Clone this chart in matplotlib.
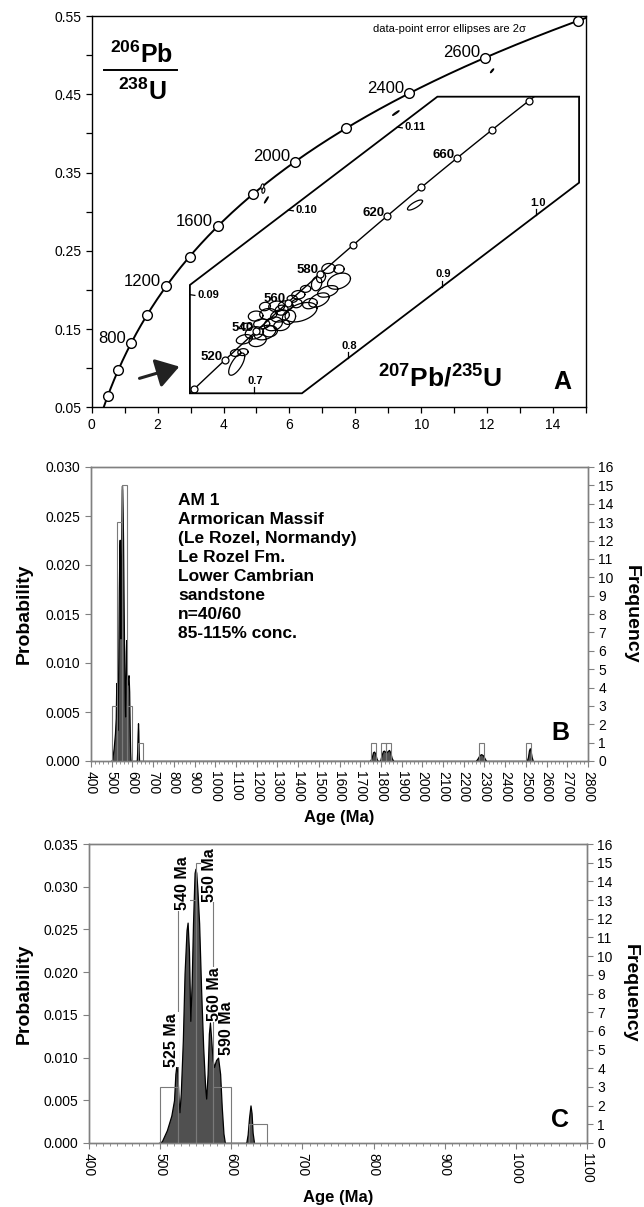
import numpy as np
import matplotlib
matplotlib.use("Agg")
import matplotlib.pyplot as plt
from matplotlib.patches import Polygon
from matplotlib.transforms import Affine2D
from matplotlib.ticker import MultipleLocator, FixedLocator, FormatStrFormatter

plt.rcParams['font.family'] = ['Liberation Sans', 'DejaVu Sans']
plt.rcParams['mathtext.fontset'] = 'custom'
plt.rcParams['mathtext.rm'] = 'Liberation Sans'
plt.rcParams['mathtext.bf'] = 'Liberation Sans:bold'
plt.rcParams['mathtext.it'] = 'Liberation Sans:italic'
plt.rcParams['mathtext.sf'] = 'Liberation Sans'

# ------------------------------------------------------------------ data
LAMBDA_238 = 1.55125e-10   # decay constants (1/yr)
LAMBDA_235 = 9.8485e-10

# concordia (panel A)
CONC_MARKER_AGES = [400, 600, 800, 1000, 1200, 1400, 1600, 1800, 2000, 2200, 2400, 2600, 2800]
CONC_LABEL_AGES = [800, 1200, 1600, 2000, 2400, 2600]

# inset concordia
INSET_MARKER_AGES = [500, 520, 540, 560, 580, 600, 620, 640, 660, 680, 700]
INSET_LABEL_AGES = [520, 540, 560, 580, 620, 660]
INSET_R7_TICKS = [0.7, 0.8, 0.9, 1.0]
INSET_R6_TICKS = [0.09, 0.10, 0.11]

# inset error ellipses: 207Pb/235U, 206Pb/238U, 2-sigma half extents, error correlation
ELL_R7 = [0.6815, 0.6804, 0.6882, 0.6896, 0.7038, 0.7116, 0.7003, 0.7081, 0.7205, 0.7017,
          0.7152, 0.7276, 0.7372, 0.7241, 0.7336, 0.7407, 0.7500, 0.7549, 0.7691, 0.7784,
          0.7666, 0.7713, 0.7791, 0.7904, 0.7904, 0.7294, 0.7170, 0.6921, 0.7116, 0.7454,
          0.7294, 0.7471, 0.7595, 0.8713]
ELL_R6 = [0.0838, 0.0849, 0.0851, 0.0864, 0.0865, 0.0874, 0.0872, 0.0882, 0.0884, 0.0889,
          0.0893, 0.0893, 0.0893, 0.0902, 0.0904, 0.0912, 0.0900, 0.0924, 0.0915, 0.0925,
          0.0931, 0.0938, 0.0948, 0.0949, 0.0937, 0.0899, 0.0876, 0.0877, 0.0900, 0.0908,
          0.0884, 0.0917, 0.0910, 0.1025]
ELL_S7 = [0.0085, 0.0055, 0.0055, 0.0085, 0.0092, 0.0115, 0.0097, 0.0085, 0.0097, 0.0078,
          0.0092, 0.0100, 0.0070, 0.0085, 0.0078, 0.0055, 0.0170, 0.0055, 0.0108, 0.0108,
          0.0055, 0.0048, 0.0070, 0.0055, 0.0122, 0.0070, 0.0078, 0.0055, 0.0058, 0.0058,
          0.0085, 0.0070, 0.0078, 0.0080]
ELL_S6 = [0.0012, 0.00036, 0.00036, 0.00052, 0.00066, 0.0008, 0.00066, 0.00052, 0.00073, 0.00052,
          0.00058, 0.00066, 0.00073, 0.00055, 0.00052, 0.00036, 0.0011, 0.00036, 0.0008, 0.00066,
          0.00073, 0.00055, 0.00052, 0.00044, 0.00088, 0.00052, 0.00058, 0.00036, 0.00044, 0.00044,
          0.00058, 0.00044, 0.00055, 0.00060]
ELL_RHO = [0.75, 0.3, 0.3, 0.5, 0.4, 0.5, 0.4, 0.3, 0.4, 0.3,
           0.3, 0.4, 0.3, 0.3, 0.3, 0.2, 0.6, 0.3, 0.6, 0.6,
           0.3, 0.3, 0.3, 0.2, 0.5, 0.3, 0.3, 0.3, 0.3, 0.3,
           0.4, 0.3, 0.4, 0.85]

# old grains plotted directly on the main diagram
OLD_R7 = [5.18, 5.21, 5.30, 9.23, 12.15]
OLD_R6 = [0.332, 0.327, 0.315, 0.426, 0.480]
OLD_S7 = [0.045, 0.045, 0.06, 0.10, 0.05]
OLD_S6 = [0.0035, 0.0035, 0.004, 0.003, 0.0025]
OLD_RHO = [0.3, 0.3, 0.95, 0.95, 0.9]

# histogram (25 Ma bins)
BIN_WIDTH = 25
HIST_LEFT = [500, 525, 550, 575, 625, 1750, 1800, 1825, 2275, 2500]
HIST_COUNT = [3, 13, 15, 3, 1, 1, 1, 1, 1, 1]
N_YOUNG = 35
N_ALL = 40

# relative probability curve, young population (normalised to young grains)
PROB_AGE_YOUNG = [498, 502.4, 509.5, 515.7, 519.5, 521.4, 522.9, 524.3, 526.2, 527.1,
                  529.0, 531.9, 534.3, 537.1, 538.6, 540.5, 542.4, 544.3, 546.2, 548.4,
                  549.6, 550.8, 552.4, 554.8, 557.6, 560.5, 563.3, 564.7, 566.7, 568.5,
                  570.0, 571.9, 573.8, 575.7, 578.5, 581.4, 584.3, 586.6, 589.0, 591.0,
                  621.0, 623.0, 625.0, 627.0, 628.5, 630.0, 632.0]
PROB_YOUNG = [0, 0.0002, 0.0015, 0.0032, 0.0050, 0.0081, 0.0091, 0.0081, 0.0046, 0.0036,
              0.0058, 0.0120, 0.0198, 0.0249, 0.0258, 0.0225, 0.0143, 0.0187, 0.0257, 0.0316,
              0.0321, 0.0316, 0.0296, 0.0257, 0.0179, 0.0112, 0.0065, 0.0052, 0.0081, 0.0128,
              0.0141, 0.0120, 0.0097, 0.0089, 0.0097, 0.0100, 0.0081, 0.0042, 0.0011, 0,
              0, 0.0010, 0.0030, 0.0044, 0.0035, 0.0012, 0]
# old grains (panel B scale, all 40 grains)
PROB_AGE_OLD = [1748, 1756, 1762, 1767, 1772, 1778, 1784, 1796, 1803, 1810, 1815, 1820, 1826,
                1833, 1839, 1845, 1852, 1860, 2258, 2268, 2276, 2284, 2292, 2300, 2308,
                2504, 2510, 2515, 2519, 2523, 2528, 2534]
PROB_OLD = [0, 0.0004, 0.0009, 0.00096, 0.0008, 0.0003, 0, 0, 0.0006, 0.00102, 0.00106,
            0.00095, 0.00088, 0.00102, 0.00113, 0.0009, 0.0003, 0, 0, 0.0003, 0.0006, 0.0007,
            0.0006, 0.0003, 0, 0, 0.0004, 0.0011, 0.0013, 0.0010, 0.0004, 0]

SAMPLE_TEXT = ["AM 1", "Armorican Massif", "(Le Rozel, Normandy)", "Le Rozel Fm.",
               "Lower Cambrian", "sandstone", "n=40/60", "85-115% conc."]
PEAK_LABELS = ["525 Ma", "540 Ma", "550 Ma", "560 Ma", "590 Ma"]

# ------------------------------------------------------------------ layout
W, H = 644, 1207
FS_TICK = 10


def concordia(age_ma):
    t = np.asarray(age_ma, dtype=float) * 1e6
    return np.exp(LAMBDA_235 * t) - 1, np.exp(LAMBDA_238 * t) - 1


def ellipse(c7, c6, s7, s6, rho, n=80):
    th = np.linspace(0, 2 * np.pi, n)
    return (c7 + s7 * np.cos(th),
            c6 + s6 * (rho * np.cos(th) + np.sqrt(1 - rho ** 2) * np.sin(th)))


def px_axes(left, top, right, bottom):
    return [left / W, 1 - bottom / H, (right - left) / W, (bottom - top) / H]


fig = plt.figure(figsize=(W / 100, H / 100), dpi=100)

# ============================ panel A
axA = fig.add_axes(px_axes(91.7, 16, 586, 407.3))
axA.set_xlim(0, 15)
axA.set_ylim(0.05, 0.55)
axA.xaxis.set_major_locator(FixedLocator(np.arange(0, 15, 2)))
axA.xaxis.set_minor_locator(FixedLocator(np.arange(1, 16, 2)))
axA.yaxis.set_major_locator(FixedLocator(np.arange(0.05, 0.56, 0.10)))
axA.yaxis.set_minor_locator(FixedLocator(np.arange(0.10, 0.55, 0.10)))
axA.yaxis.set_major_formatter(FormatStrFormatter('%.2f'))
axA.tick_params(which='both', direction='out', length=4, width=0.9, labelsize=FS_TICK)
for s in axA.spines.values():
    s.set_linewidth(1.0)

# main concordia
t_curve = np.arange(300, 2900, 5)
cx, cy = concordia(t_curve)
axA.plot(cx, cy, color='black', lw=1.4, zorder=3)
mx, my = concordia(CONC_MARKER_AGES)
axA.plot(mx, my, 'o', ms=7, mfc='white', mec='black', mew=1.0, zorder=4, clip_on=False)
for age in CONC_LABEL_AGES:
    lx, ly = concordia(age)
    axA.annotate(str(age), xy=(lx, ly), xytext=(-3.5, 3.5), textcoords='offset points',
                 ha='right', va='center', fontsize=12)

# old-grain ellipses
for c7, c6, s7, s6, r in zip(OLD_R7, OLD_R6, OLD_S7, OLD_S6, OLD_RHO):
    ex, ey = ellipse(c7, c6, s7, s6, r)
    axA.fill(ex, ey, facecolor='white', edgecolor='black', lw=0.8, zorder=3)

# inset (skewed enlargement)
INSET_AFFINE = Affine2D(np.array([[28.51, 0.0, -15.03],
                                  [-0.19, 12.8, -0.838],
                                  [0.0, 0.0, 1.0]]))
inset_tr = INSET_AFFINE + axA.transData
FRAME_X = [2.98, 2.98, 6.38, 14.79, 14.79, 10.49]
FRAME_Y = [0.2063, 0.0679, 0.0679, 0.337, 0.4469, 0.4469]
frame = Polygon(np.column_stack([FRAME_X, FRAME_Y]), closed=True, fill=False,
                edgecolor='black', lw=1.3, zorder=5)
axA.add_patch(frame)

ti = np.arange(490, 712, 2)
ix, iy = concordia(ti)
ln, = axA.plot(ix, iy, color='black', lw=1.0, transform=inset_tr, zorder=3)
ln.set_clip_path(frame)
imx, imy = concordia(INSET_MARKER_AGES)
axA.plot(imx, imy, 'o', ms=5, mfc='white', mec='black', mew=0.9, transform=inset_tr, zorder=4)
for age in INSET_LABEL_AGES:
    lx, ly = concordia(age)
    axA.annotate(str(age), xy=(float(lx), float(ly)), xycoords=inset_tr, xytext=(-1.5, 2.5),
                 textcoords='offset points', ha='right', va='center', fontsize=9.5,
                 fontweight='bold')

for c7, c6, s7, s6, r in zip(ELL_R7, ELL_R6, ELL_S7, ELL_S6, ELL_RHO):
    ex, ey = ellipse(c7, c6, s7, s6, r)
    e, = axA.plot(ex, ey, color='black', lw=0.9, transform=inset_tr, zorder=3)
    e.set_clip_path(frame)

# inset ticks
A_, C_ = 28.51, -15.03
D_, E_, F_ = -0.19, 12.8, -0.838
for v in INSET_R7_TICKS:
    x = A_ * v + C_
    y0 = np.interp(x, FRAME_X[1:4], FRAME_Y[1:4])
    axA.plot([x, x], [y0, y0 + 0.008], color='black', lw=0.9, zorder=5)
    axA.text(x + 0.05, y0 + 0.0095, f'{v:.1f}', ha='center', va='bottom', fontsize=8,
             fontweight='bold')
slope_ul = (FRAME_Y[5] - FRAME_Y[0]) / (FRAME_X[5] - FRAME_X[0])
for v in INSET_R6_TICKS:
    def yline(x):
        return D_ * (x - C_) / A_ + E_ * v + F_
    x = FRAME_X[0]
    if yline(x) <= FRAME_Y[0]:
        y = yline(x)
    else:
        k = D_ / A_
        x = (E_ * v + F_ - k * C_ - FRAME_Y[0] + slope_ul * FRAME_X[0]) / (slope_ul - k)
        y = yline(x)
    axA.plot([x, x + 0.15], [y, yline(x + 0.15)], color='black', lw=0.9, zorder=5)
    axA.text(x + 0.22, y, f'{v:.2f}', ha='left', va='center', fontsize=8, fontweight='bold')

# arrow
axA.annotate('', xy=(2.66, 0.102), xytext=(1.45, 0.087),
             arrowprops=dict(arrowstyle='-|>,head_length=0.7,head_width=0.45', lw=2.2,
                             color='#222222', mutation_scale=20, shrinkA=0, shrinkB=0))

# axis titles in panel A
axA.text(1.52, 0.501, r'$\mathbf{^{206}Pb}$', fontsize=18, ha='center', va='center')
axA.plot([0.38, 2.59], [0.481, 0.481], color='black', lw=1.4)
axA.text(1.53, 0.4533, r'$\mathbf{^{238}U}$', fontsize=18, ha='center', va='center')
axA.text(10.56, 0.087, r'$\mathbf{^{207}Pb/^{235}U}$', fontsize=19, ha='center', va='center')
axA.text(14.29, 0.0827, 'A', fontsize=18, fontweight='bold', ha='center', va='center')
axA.text(10.85, 0.533, 'data-point error ellipses are 2σ', fontsize=8, ha='center',
         va='center')


# ============================ panels B and C
def prob_panel(rect, xmax, ymax, xminor, ages, probs, label, label_xy, ylab_x, xlab_y):
    ax = fig.add_axes(rect)
    ax2 = ax.twinx()
    ax.set_xlim(400, xmax)
    ax.set_ylim(0, ymax)
    ax2.set_ylim(0, 16)
    ax.fill_between(ages, 0, probs, facecolor='#505050', edgecolor='black', lw=0.9, zorder=2)
    ax2.bar(HIST_LEFT, HIST_COUNT, width=BIN_WIDTH, align='edge', fill=False,
            edgecolor='#7a7a7a', linewidth=0.8, zorder=3)
    ax.xaxis.set_major_locator(MultipleLocator(100))
    ax.xaxis.set_minor_locator(MultipleLocator(xminor))
    ax.yaxis.set_major_locator(MultipleLocator(0.005))
    ax.yaxis.set_major_formatter(FormatStrFormatter('%.3f'))
    ax2.yaxis.set_major_locator(MultipleLocator(1))
    for a in (ax, ax2):
        a.tick_params(which='both', direction='out', colors='#808080', labelcolor='black',
                      labelsize=FS_TICK)
        a.tick_params(which='major', length=4)
        a.tick_params(which='minor', length=2.2)
        for s in a.spines.values():
            s.set_color('#808080')
            s.set_linewidth(1.0)
    ax.tick_params(axis='x', labelrotation=-90)
    ax.set_ylabel('Probability', fontsize=14, fontweight='bold')
    ax.yaxis.set_label_coords(ylab_x, 0.5)
    ax2.set_ylabel('Frequency', fontsize=14, fontweight='bold', rotation=270, va='center')
    ax2.yaxis.set_label_coords(1.087, 0.5)
    ax.set_xlabel('Age (Ma)', fontsize=12, fontweight='bold')
    ax.xaxis.set_label_coords(0.5, xlab_y)
    ax2.text(label_xy[0], label_xy[1], label, transform=ax.transAxes, fontsize=18,
             fontweight='bold', ha='center', va='center')
    return ax, ax2


ages_B = np.concatenate([PROB_AGE_YOUNG, PROB_AGE_OLD])
prob_B = np.concatenate([np.array(PROB_YOUNG) * N_YOUNG / N_ALL, PROB_OLD])
axB, axB2 = prob_panel(px_axes(91, 467, 588, 761), 2800, 0.030, 20, ages_B, prob_B,
                       'B', (0.944, 0.095), -0.117, -0.168)
for i, line in enumerate(SAMPLE_TEXT):
    axB2.text(0.175, 0.885 - i * 0.0643, line, transform=axB.transAxes, fontsize=12.5,
              fontweight='bold', ha='left', va='center')

axC, axC2 = prob_panel(px_axes(89, 844, 587, 1143), 1100, 0.035, 10,
                       PROB_AGE_YOUNG, PROB_YOUNG, 'C', (0.946, 0.077), -0.112, -0.158)
PEAK_LABEL_AGE = [515.3, 531.0, 569.1, 576.3, 593.9]
PEAK_LABEL_PROB = [0.0121, 0.0304, 0.0314, 0.0174, 0.0134]
for txt, xa, yp in zip(PEAK_LABELS, PEAK_LABEL_AGE, PEAK_LABEL_PROB):
    axC2.text(xa, yp, txt, transform=axC.transData, rotation=90, fontsize=11.5,
              fontweight='bold', ha='center', va='center', zorder=6,
              bbox=dict(facecolor='white', edgecolor='none', pad=0.6))

fig.savefig('out.png', dpi=100)
